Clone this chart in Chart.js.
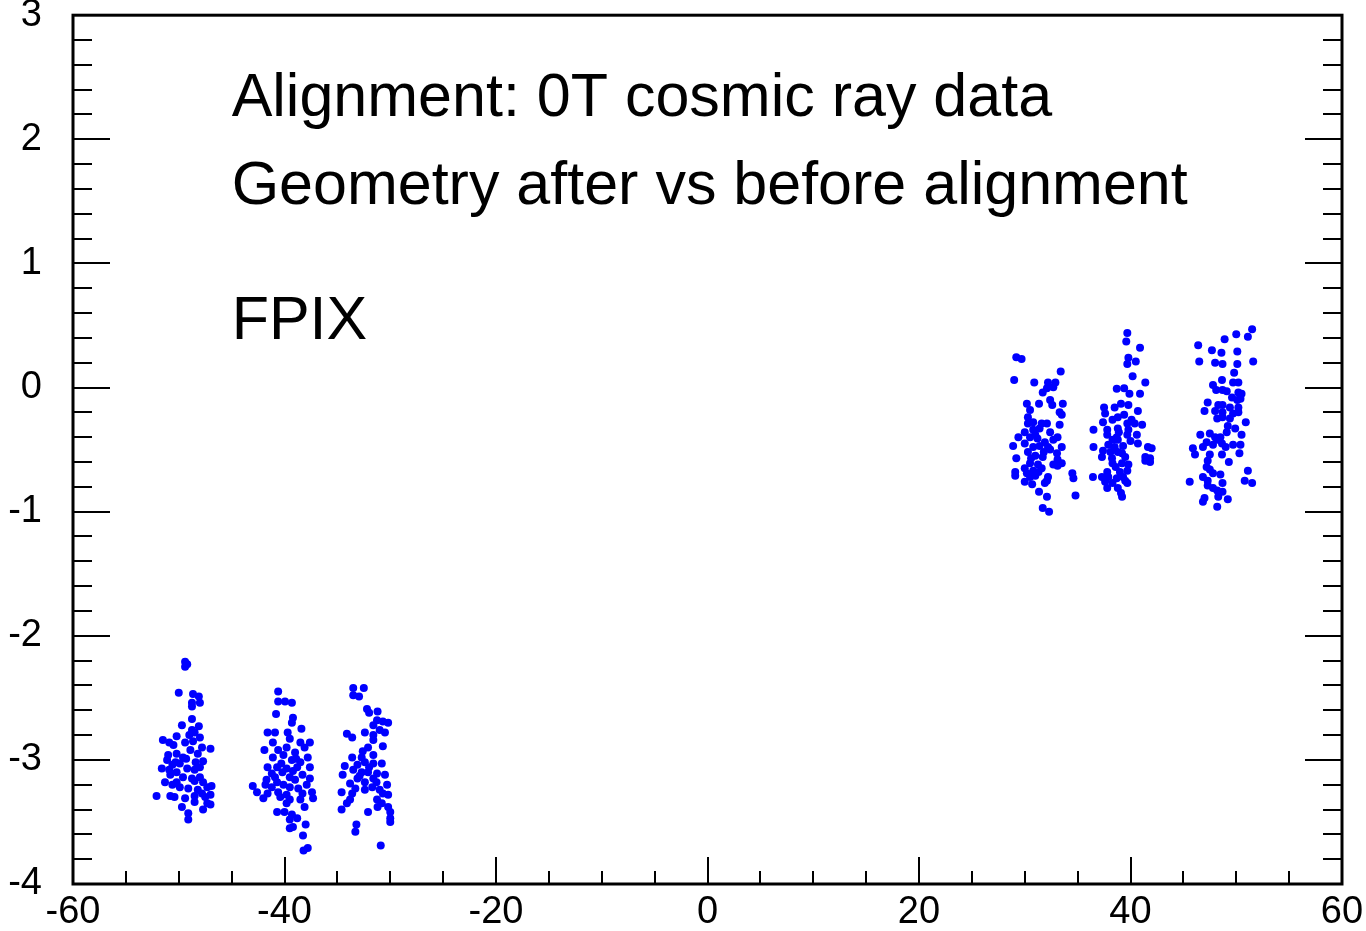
<!DOCTYPE html>
<html>
<head>
<meta charset="utf-8">
<title>FPIX alignment</title>
<script src="https://cdn.jsdelivr.net/npm/chart.js@4.4.1/dist/chart.umd.min.js"></script>
<style>
  body { margin: 0; background: #fff; }
  canvas { display: block; }
</style>
</head>
<body>
<canvas id="chart" width="1366" height="931"></canvas>
<script>
// 축 범위와 눈금
const xRange = [-60, 60];
const yRange = [-4, 3];
const xMajorStep = 20, xMinorStep = 5;
const yMajorStep = 1, yMinorStep = 0.2;

// 그림 안의 글자 (x, y 는 데이터 좌표)
const labelLines = ['Alignment: 0T cosmic ray data', 'Geometry after vs before alignment', 'FPIX'];
const labelX = [-45, -45, -45];
const labelY = [2.19, 1.48, 0.39];

// 점 묶음 (x, y) - 그림에서 읽은 값
const clusterA = [
  [-49.4,-2.21],[-49.2,-2.23],[-49.4,-2.25],[-50.0,-2.46],[-48.65,-2.47],[-48.1,-2.49],
  [-48.75,-2.54],[-48.0,-2.54],[-48.75,-2.57],[-48.75,-2.67],[-49.7,-2.72],[-48.1,-2.73],
  [-48.75,-2.76],[-48.5,-2.78],[-50.2,-2.81],[-49.0,-2.80],[-48.0,-2.82],
  [-51.5,-2.84],[-50.9,-2.86],[-50.5,-2.88],[-49.4,-2.86],[-48.65,-2.85],[-47.8,-2.90],[-47.0,-2.91],
  [-51.0,-2.96],[-50.2,-2.95],[-49.6,-2.98],[-48.9,-2.92],[-48.2,-2.95],[-47.7,-3.01],[-51.1,-3.00],
  [-51.6,-3.07],[-50.6,-3.04],[-49.9,-3.03],[-49.2,-3.07],[-48.5,-3.08],[-50.2,-3.10],
  [-50.8,-3.12],[-49.6,-3.14],[-48.75,-3.15],[-48.0,-3.14],[-47.7,-3.18],
  [-51.3,-3.18],[-50.6,-3.20],[-50.2,-3.18],[-48.5,-3.17],
  [-49.1,-3.23],[-48.2,-3.24],[-47.3,-3.22],[-46.9,-3.21],[-47.8,-3.27],
  [-52.1,-3.29],[-50.8,-3.29],[-50.4,-3.30],[-49.4,-3.31],[-48.5,-3.29],[-47.5,-3.30],[-47.0,-3.28],
  [-48.5,-3.34],[-47.3,-3.35],[-47.0,-3.36],[-49.7,-3.38],[-47.7,-3.40],[-49.1,-3.43],[-49.1,-3.48],
  [-50.3,-3.02],[-49.3,-2.99],[-48.4,-3.02],[-49.9,-3.22],[-48.0,-3.06],[-50.9,-3.08]
];
const clusterB = [
  [-40.6,-2.45],[-40.6,-2.53],[-39.95,-2.53],[-39.3,-2.54],[-40.8,-2.63],[-39.2,-2.66],[-39.3,-2.70],
  [-38.4,-2.75],[-41.6,-2.78],[-40.9,-2.78],[-39.7,-2.78],
  [-39.5,-2.83],[-41.1,-2.86],[-38.5,-2.86],[-37.6,-2.86],
  [-41.9,-2.92],[-40.6,-2.92],[-39.8,-2.90],[-39.0,-2.94],[-38.1,-2.90],[-37.8,-2.98],
  [-41.1,-2.98],[-40.1,-2.96],[-39.3,-3.00],[-38.5,-3.02],
  [-41.6,-3.06],[-40.7,-3.06],[-39.8,-3.07],[-38.8,-3.06],[-37.6,-3.06],
  [-41.2,-3.11],[-40.2,-3.10],[-39.5,-3.14],[-38.3,-3.12],
  [-41.7,-3.16],[-40.7,-3.18],[-39.0,-3.16],[-37.6,-3.15],
  [-43.0,-3.21],[-41.8,-3.20],[-41.2,-3.22],[-40.1,-3.20],[-39.5,-3.22],[-38.7,-3.23],[-37.9,-3.20],
  [-42.6,-3.26],[-41.6,-3.27],[-40.6,-3.26],[-39.8,-3.28],[-38.3,-3.27],[-37.4,-3.26],
  [-42.0,-3.31],[-40.4,-3.30],[-39.5,-3.32],[-38.5,-3.32],[-37.3,-3.31],
  [-39.8,-3.35],[-38.1,-3.38],
  [-40.7,-3.42],[-40.0,-3.42],[-39.3,-3.44],[-39.5,-3.48],[-38.8,-3.47],
  [-39.5,-3.55],[-39.2,-3.54],[-38.0,-3.52],[-38.25,-3.61],[-38.2,-3.73],[-37.8,-3.71],
  [-40.3,-3.03],[-39.2,-3.09],[-40.9,-3.14],[-38.9,-2.99]
];
const clusterC = [
  [-33.5,-2.42],[-32.5,-2.42],[-33.5,-2.48],[-32.95,-2.49],
  [-32.2,-2.59],[-32.0,-2.62],[-31.2,-2.61],
  [-31.25,-2.68],[-30.7,-2.69],[-30.2,-2.70],[-31.6,-2.72],
  [-31.0,-2.76],[-30.5,-2.78],[-32.4,-2.78],[-31.6,-2.80],[-34.1,-2.79],[-33.6,-2.82],
  [-31.6,-2.84],[-30.7,-2.89],[-32.1,-2.90],
  [-32.6,-2.93],[-32.7,-2.98],[-31.6,-2.96],[-33.6,-2.98],
  [-34.3,-3.05],[-33.1,-3.04],[-32.4,-3.02],[-31.6,-3.03],[-30.8,-3.03],
  [-33.5,-3.08],[-32.7,-3.10],[-32.1,-3.10],[-31.25,-3.11],[-30.5,-3.12],[-34.5,-3.12],
  [-33.1,-3.15],[-32.4,-3.18],[-31.6,-3.15],[-33.8,-3.19],[-30.3,-3.20],
  [-33.3,-3.23],[-32.4,-3.24],[-31.7,-3.22],[-31.0,-3.24],
  [-34.6,-3.26],[-33.6,-3.27],[-30.7,-3.27],[-30.2,-3.28],
  [-31.25,-3.32],[-30.8,-3.35],[-33.8,-3.32],[-34.1,-3.35],
  [-34.6,-3.40],[-31.2,-3.38],[-30.2,-3.38],[-30.0,-3.42],[-32.1,-3.42],
  [-30.0,-3.47],[-30.0,-3.50],[-33.2,-3.52],[-33.3,-3.58],[-30.9,-3.69],
  [-32.0,-3.06],[-31.3,-3.18],[-32.9,-3.13]
];
const clusterD = [
  [29.2,0.245],[29.7,0.23],[33.4,0.13],[29.0,0.06],[30.9,0.04],
  [32.2,0.04],[32.9,0.04],[32.1,-0.005],[31.7,-0.04],[32.7,0.003],
  [32.4,-0.10],[32.6,-0.14],[33.6,-0.13],[30.2,-0.13],[31.35,-0.13],
  [30.5,-0.18],[33.3,-0.20],[33.5,-0.22],[30.3,-0.24],
  [30.8,-0.28],[31.6,-0.29],[32.1,-0.29],[33.3,-0.30],[30.3,-0.29],
  [30.0,-0.36],[30.8,-0.34],[31.4,-0.33],[32.4,-0.36],[33.1,-0.40],
  [29.4,-0.40],[30.5,-0.40],[31.2,-0.41],[31.9,-0.44],[32.7,-0.42],
  [28.9,-0.47],[30.0,-0.45],[30.8,-0.48],[31.4,-0.47],[32.2,-0.48],[33.5,-0.48],
  [30.3,-0.52],[31.0,-0.55],[32.4,-0.50],[33.05,-0.53],
  [29.2,-0.57],[31.7,-0.56],[33.1,-0.58],
  [30.5,-0.61],[31.25,-0.62],[32.7,-0.62],[33.5,-0.61],
  [30.0,-0.65],[30.8,-0.67],[31.6,-0.65],[33.1,-0.63],
  [29.1,-0.68],[30.2,-0.69],[31.0,-0.71],[34.5,-0.69],
  [29.1,-0.71],[30.5,-0.72],[32.2,-0.72],[34.6,-0.73],
  [30.0,-0.76],[30.7,-0.78],[31.9,-0.77],[32.1,-0.75],
  [31.35,-0.84],[34.8,-0.87],[32.1,-0.88],[31.7,-0.97],[32.3,-1.00],
  [31.0,-0.38],[31.8,-0.52],[30.6,-0.57],[31.3,-0.68]
];
const clusterE = [
  [39.7,0.44],[39.6,0.37],[40.9,0.32],[39.8,0.24],[40.5,0.21],[39.7,0.19],
  [40.2,0.09],[41.4,0.04],
  [38.7,-0.01],[39.4,-0.005],[39.9,-0.05],[40.9,-0.05],
  [39.1,-0.13],[39.8,-0.14],[40.7,-0.19],[37.5,-0.16],[38.5,-0.16],
  [37.6,-0.21],[38.8,-0.24],[39.4,-0.22],[40.1,-0.26],
  [37.4,-0.28],[38.3,-0.26],[39.7,-0.29],[40.4,-0.29],[41.1,-0.30],
  [36.5,-0.34],[37.8,-0.34],[38.8,-0.33],[39.8,-0.34],
  [37.8,-0.38],[38.7,-0.40],[39.7,-0.38],[40.6,-0.38],
  [38.3,-0.42],[38.8,-0.42],[40.0,-0.43],[40.7,-0.45],
  [37.9,-0.46],[38.5,-0.48],[39.3,-0.47],[41.65,-0.48],[42.0,-0.49],
  [36.5,-0.48],[37.4,-0.51],[38.1,-0.52],[38.8,-0.52],
  [37.3,-0.56],[38.25,-0.57],[39.5,-0.56],[41.4,-0.56],[41.85,-0.57],
  [38.3,-0.61],[39.2,-0.61],[39.8,-0.62],[41.4,-0.59],[41.85,-0.60],
  [37.8,-0.68],[39.0,-0.68],[39.7,-0.67],
  [36.45,-0.72],[37.3,-0.72],[37.9,-0.72],[38.7,-0.73],[39.3,-0.72],
  [37.6,-0.76],[38.3,-0.77],[39.5,-0.75],[39.7,-0.77],
  [37.8,-0.81],[38.8,-0.81],[39.1,-0.85],[39.2,-0.88],
  [38.9,-0.36],[39.2,-0.53],[38.6,-0.64]
];
const clusterF = [
  [51.5,0.47],[50.0,0.43],[51.1,0.41],[48.9,0.39],
  [46.4,0.34],[47.7,0.30],[48.6,0.28],[50.1,0.29],
  [46.5,0.21],[48.0,0.20],[48.7,0.19],[50.1,0.19],[51.6,0.21],
  [49.8,0.12],[48.65,0.06],[49.7,0.04],[50.2,0.04],[47.8,0.02],
  [48.1,-0.02],[48.7,-0.02],[49.1,-0.03],[50.2,-0.04],[50.5,-0.05],
  [47.3,-0.12],[49.6,-0.08],[50.1,-0.10],[50.4,-0.09],
  [48.3,-0.14],[48.7,-0.14],[49.4,-0.16],[50.2,-0.16],
  [47.0,-0.19],[48.0,-0.19],[48.7,-0.20],[49.7,-0.21],[50.2,-0.20],
  [48.2,-0.25],[48.7,-0.24],[49.4,-0.25],[50.9,-0.28],
  [49.2,-0.31],[49.9,-0.33],[46.6,-0.38],
  [47.5,-0.37],[48.0,-0.40],[48.5,-0.40],[49.1,-0.36],[50.5,-0.38],
  [47.2,-0.44],[48.2,-0.42],[48.65,-0.45],[47.8,-0.46],
  [45.9,-0.49],[46.85,-0.48],[49.7,-0.46],[50.4,-0.46],[49.0,-0.48],
  [46.1,-0.54],[47.5,-0.54],[48.65,-0.54],[50.3,-0.53],
  [47.3,-0.59],[49.3,-0.60],
  [47.2,-0.64],[47.5,-0.66],[51.1,-0.67],[47.8,-0.69],[48.5,-0.70],
  [45.6,-0.76],[46.85,-0.72],[47.3,-0.75],[48.7,-0.77],[50.8,-0.75],[51.5,-0.77],
  [47.3,-0.79],[47.8,-0.81],[48.2,-0.83],[48.7,-0.84],
  [47.0,-0.89],[46.85,-0.92],[48.3,-0.88],[49.2,-0.90],[48.2,-0.96]
];

const allPoints = [clusterA, clusterB, clusterC, clusterD, clusterE, clusterF]
  .flat()
  .map(p => ({ x: p[0], y: p[1] }));

const FONT = '"Liberation Sans", Arial, Helvetica, sans-serif';

// 테두리와 안쪽 눈금 그리기 (ROOT 스타일)
const frameTicks = {
  id: 'frameTicks',
  beforeDatasetsDraw(chart) {
    const { ctx, chartArea: a, scales: { x, y } } = chart;
    ctx.save();
    ctx.strokeStyle = '#000';
    ctx.lineWidth = 2;
    ctx.beginPath();
    const nx = Math.round((xRange[1] - xRange[0]) / xMinorStep);
    for (let i = 0; i <= nx; i++) {
      const v = xRange[0] + i * xMinorStep;
      const px = Math.round(x.getPixelForValue(v));
      const len = (i % (xMajorStep / xMinorStep) === 0) ? 27 : 13;
      ctx.moveTo(px, a.bottom);
      ctx.lineTo(px, a.bottom - len);
    }
    const ny = Math.round((yRange[1] - yRange[0]) / yMinorStep);
    const perMajor = Math.round(yMajorStep / yMinorStep);
    for (let i = 0; i <= ny; i++) {
      const v = yRange[0] + i * yMinorStep;
      const py = Math.round(y.getPixelForValue(v));
      const len = (i % perMajor === 0) ? 37 : 19;
      ctx.moveTo(a.left, py);
      ctx.lineTo(a.left + len, py);
      ctx.moveTo(a.right, py);
      ctx.lineTo(a.right - len, py);
    }
    ctx.stroke();
    ctx.lineWidth = 3;
    ctx.strokeRect(a.left, a.top, a.right - a.left, a.bottom - a.top);
    ctx.restore();
  },
  afterDraw(chart) {
    const { ctx, scales: { x, y } } = chart;
    ctx.save();
    ctx.fillStyle = '#000';
    ctx.font = '61px ' + FONT;
    ctx.textAlign = 'left';
    ctx.textBaseline = 'alphabetic';
    labelLines.forEach((t, i) => {
      ctx.fillText(t, x.getPixelForValue(labelX[i]), y.getPixelForValue(labelY[i]));
    });
    ctx.restore();
  }
};

new Chart(document.getElementById('chart'), {
  type: 'scatter',
  data: {
    datasets: [{
      data: allPoints,
      backgroundColor: '#0000ff',
      borderWidth: 0,
      pointRadius: 4,
      pointHoverRadius: 4
    }]
  },
  options: {
    responsive: false,
    animation: false,
    layout: { padding: { top: 15, right: 24, bottom: 0, left: 0 } },
    plugins: { legend: { display: false }, tooltip: { enabled: false } },
    scales: {
      x: {
        type: 'linear',
        min: xRange[0],
        max: xRange[1],
        // 눈금선은 플러그인에서 그림, tickLength 는 글자 간격용
        grid: { display: false, drawTicks: true, tickLength: 13 },
        border: { display: false },
        ticks: {
          stepSize: xMajorStep,
          color: '#000',
          padding: 0,
          maxRotation: 0,
          font: { family: FONT, size: 38, lineHeight: 0.8 }
        },
        afterFit(scale) { scale.height = 47; }
      },
      y: {
        type: 'linear',
        min: yRange[0],
        max: yRange[1],
        grid: { display: false, drawTicks: true, tickLength: 31 },
        border: { display: false },
        ticks: {
          stepSize: yMajorStep,
          color: '#000',
          padding: 0,
          font: { family: FONT, size: 38, lineHeight: 0.8 }
        },
        afterFit(scale) { scale.width = 73; }
      }
    }
  },
  plugins: [frameTicks]
});
</script>
</body>
</html>
